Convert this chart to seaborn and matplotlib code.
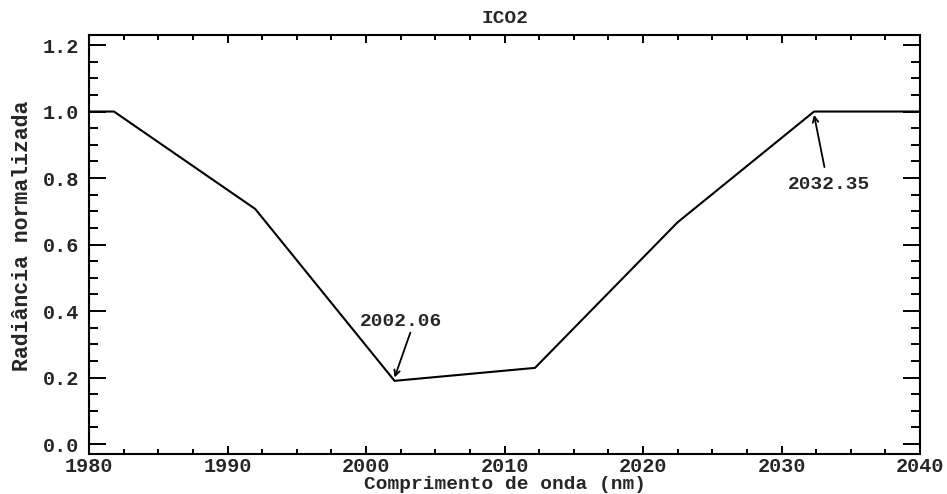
import numpy as np
import pandas as pd
import matplotlib
matplotlib.use("Agg")
import matplotlib.pyplot as plt
from matplotlib.ticker import MultipleLocator
import seaborn as sns

# Filter profile: wavelength (nm) vs normalized radiance
wavelength = [1980.0, 1981.8, 1992.0, 2002.06, 2012.2, 2022.5, 2032.35, 2040.0]
radiance = [1.0, 1.0, 0.707, 0.19, 0.229, 0.667, 1.0, 1.0]

marked_wl = [2002.06, 2032.35]
marked_labels = ["2002.06", "2032.35"]

sns.set_style("ticks")
plt.rcParams["font.family"] = ["Liberation Mono", "DejaVu Sans Mono"]
plt.rcParams["font.weight"] = "bold"

df = pd.DataFrame({"wl": wavelength, "rad": radiance})

fig = plt.figure(figsize=(9.47, 4.94), dpi=100)
ax = fig.add_axes([0.094, 0.081, 0.8775, 0.848])

sns.lineplot(data=df, x="wl", y="rad", ax=ax, color="black", linewidth=1.5)

ax.set_xlim(1980, 2040)
ax.set_ylim(-0.03, 1.23)
ax.xaxis.set_major_locator(MultipleLocator(10))
ax.xaxis.set_minor_locator(MultipleLocator(2.5))
ax.yaxis.set_major_locator(MultipleLocator(0.2))
ax.yaxis.set_minor_locator(MultipleLocator(0.05))
ax.yaxis.set_major_formatter(plt.FuncFormatter(lambda v, p: f"{v:.1f}"))
ax.xaxis.set_major_formatter(plt.FuncFormatter(lambda v, p: f"{v:.0f}"))

ax.tick_params(which="both", direction="in", top=True, right=True, color="black", width=1.4)
ax.tick_params(axis="y", which="major", length=12, labelsize=14.5, pad=7)
ax.tick_params(axis="y", which="minor", length=6.5)
ax.tick_params(axis="x", which="major", length=6, labelsize=14.5, pad=2)
ax.tick_params(axis="x", which="minor", length=3.5)
for s in ax.spines.values():
    s.set_linewidth(1.5)
    s.set_color("black")

ax.set_title("ICO2", fontsize=14, fontweight="bold", pad=9)
ax.set_xlabel("Comprimento de onda (nm)", fontsize=14, fontweight="bold")
ax.xaxis.set_label_coords(0.5, -0.052)
ax.set_ylabel("Radiância normalizada", fontsize=15.5, fontweight="bold")
ax.yaxis.set_label_coords(-0.068, 0.52)

# Arrows marking the band edges
r0 = np.interp(marked_wl[0], wavelength, radiance)
ax.annotate("", xy=(marked_wl[0], r0 + 0.01), xytext=(2003.2, 0.335),
            arrowprops=dict(arrowstyle="->", color="black", lw=1.3, shrinkA=0, shrinkB=0))
ax.text(2002.5, 0.367, marked_labels[0], ha="center", va="center", fontsize=14, fontweight="bold")

r1 = np.interp(marked_wl[1], wavelength, radiance)
ax.annotate("", xy=(marked_wl[1], r1 - 0.01), xytext=(2033.1, 0.833),
            arrowprops=dict(arrowstyle="->", color="black", lw=1.3, shrinkA=0, shrinkB=0))
ax.text(2033.4, 0.782, marked_labels[1], ha="center", va="center", fontsize=14, fontweight="bold")

fig.savefig("out.png", dpi=100)
